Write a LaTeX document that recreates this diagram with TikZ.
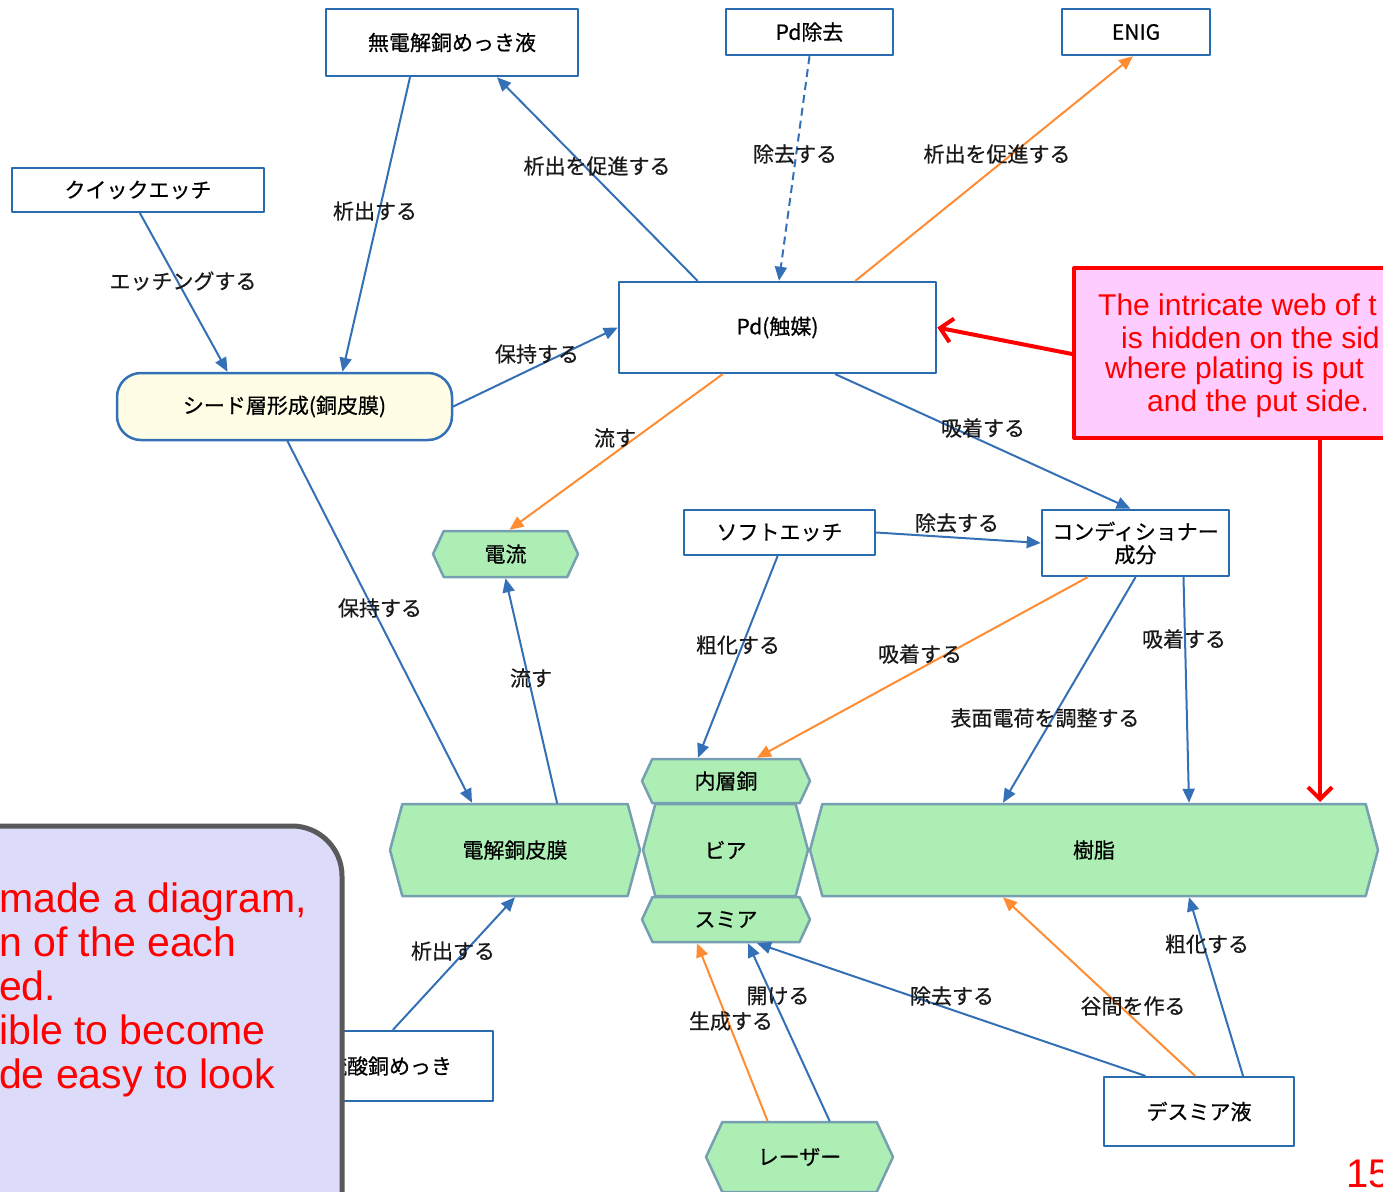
\documentclass[tikz,border=0pt]{standalone}
\usepackage{fontspec}
\setmainfont{Liberation Sans}
\newfontfamily\jpfont[FakeBold=0.6]{Noto Sans CJK JP}
\usetikzlibrary{arrows,arrows.meta,shapes.symbols}

\definecolor{boxblue}{RGB}{42,108,176}
\definecolor{lineblue}{RGB}{52,112,182}
\definecolor{linkorange}{RGB}{255,140,50}
\definecolor{leaf}{RGB}{172,238,180}
\definecolor{leafrim}{RGB}{118,160,178}
\definecolor{ivory}{RGB}{255,253,230}
\definecolor{pinkfill}{RGB}{255,204,255}
\definecolor{lavender}{RGB}{220,220,250}

\tikzset{
  jp/.style={font=\jpfont\fontsize{21}{24}\selectfont},
  box/.style={jp, draw=boxblue, line width=2.5pt, fill=white, inner sep=0pt, align=center},
  seedbox/.style={jp, draw=lineblue, line width=2.5pt, fill=ivory, rounded corners=24pt, inner sep=0pt},
  part/.style={jp, shape=signal, signal to=west and east, signal pointer angle=#1, draw=leafrim, line width=2.5pt, fill=leaf, inner sep=0pt},
  part/.default=150,
  lbl/.style={jp, text=black!90, inner sep=1pt},
  link/.style={->, draw=lineblue, line width=2pt},
  olink/.style={->, draw=linkorange, line width=2pt},
  redarrow/.style={-{Straight Barb[length=12pt,width=24pt]}, draw=red, line width=4pt},
  memo/.style={draw=black!65, line width=5pt, fill=lavender, rounded corners=50pt},
  warn/.style={draw=red, line width=4pt, fill=pinkfill},
  redtext/.style={text=red, inner sep=0pt, anchor=west},
}

\begin{document}
\begin{tikzpicture}[x=1pt,y=-1pt,>={Triangle[length=14pt,width=12pt]},line cap=round,line join=round]
\useasboundingbox (0,0) rectangle (1383,1191);
\clip (0,0) rectangle (1383,1191);

% boxes
\node[box, minimum width=252, minimum height=67] (eless) at (452,42.5) {無電解銅めっき液};
\node[box, minimum width=167, minimum height=46] (pdrem) at (809.5,32) {Pd除去};
\node[box, minimum width=148, minimum height=46] (enig) at (1136,32) {ENIG};
\node[box, minimum width=252, minimum height=44] (quick) at (138,190) {クイックエッチ};
\node[box, minimum width=317, minimum height=91] (pd) at (777.5,327.5) {Pd(触媒)};
\node[seedbox, minimum width=335, minimum height=67] (seed) at (284.5,406.5) {シード層形成(銅皮膜)};
\node[part=130, minimum width=145, minimum height=46] (current) at (505.5,554) {電流};
\node[box, minimum width=191, minimum height=45] (soft) at (779.5,532.5) {ソフトエッチ};
\node[box, minimum width=187, minimum height=66, font=\jpfont\fontsize{21}{23}\selectfont] (cond) at (1135.5,543) {コンディショナー\\成分};
\node[part=130, minimum width=168, minimum height=44] (inner) at (726,781) {内層銅};
\node[part, minimum width=250, minimum height=92] (elfilm) at (515,850) {電解銅皮膜};
\node[part, minimum width=165, minimum height=92] (via) at (725.5,850) {ビア};
\node[part, minimum width=568, minimum height=92] (resin) at (1094,850) {樹脂};
\node[part=130, minimum width=168, minimum height=45] (smear) at (726,919.5) {スミア};
\node[box, minimum width=208, minimum height=70] (sulf) at (389,1066) {硫酸銅めっき};
\node[box, minimum width=190, minimum height=69] (desmear) at (1199,1111.5) {デスミア液};
\node[part=130, minimum width=187, minimum height=70] (laser) at (799.5,1157) {レーザー};

% connectors
\draw[link] ([xshift=-42]eless.south) -- ([xshift=58]seed.north);
\node[lbl] (l1) at (375,211) {析出する};
\draw[link] ([xshift=-80]pd.north) -- ([xshift=45]eless.south);
\node[lbl] (l2) at (597,166) {析出を促進する};
\draw[link] ([xshift=2]quick.south) -- ([xshift=-57]seed.north);
\node[lbl] (l3) at (183,281) {エッチングする};
\draw[link] (seed.east) -- (pd.west);
\node[lbl] (l4) at (537,354) {保持する};
\draw[link, dash pattern=on 8pt off 5pt, line cap=butt] (pdrem.south) -- ([xshift=1.5]pd.north);
\node[lbl] (l5) at (795,154) {除去する};
\draw[olink] ([xshift=78]pd.north) -- ([xshift=-3]enig.south);
\node[lbl] (l6) at (997,154) {析出を促進する};
\draw[olink] ([xshift=-55]pd.south) -- ([xshift=4]current.north);
\node[lbl] (l7) at (615,438) {流す};
\draw[link] ([xshift=58]pd.south) -- ([xshift=-5]cond.north);
\node[lbl] (l8) at (983,428) {吸着する};
\draw[link] (soft.east) -- (cond.west);
\node[lbl] (l9) at (957,523) {除去する};
\draw[link] ([xshift=-2]soft.south) -- ([xshift=-28]inner.north);
\node[lbl] (l10) at (738,645) {粗化する};
\draw[olink] ([xshift=-48]cond.south) -- ([xshift=31]inner.north);
\node[lbl] (l11) at (920,654) {吸着する};
\draw[link] (cond.south) -- ([xshift=-91]resin.north);
\node[lbl] (l12) at (1045,718) {表面電荷を調整する};
\draw[link] ([xshift=48]cond.south) -- ([xshift=95]resin.north);
\node[lbl] (l13) at (1184,639) {吸着する};
\draw[link] ([xshift=3]seed.south) -- ([xshift=-43]elfilm.north);
\node[lbl] (l14) at (380,608) {保持する};
\draw[link] ([xshift=42]elfilm.north) -- (current.south);
\node[lbl] (l15) at (531,678) {流す};
\draw[link] ([xshift=4]sulf.north) -- (elfilm.south);
\node[lbl] (l16) at (453,951) {析出する};
\draw[olink] ([xshift=-32]laser.north) -- ([xshift=-29]smear.south);
\node[lbl] (l17) at (731,1021) {生成する};
\draw[link] ([xshift=30]laser.north) -- ([xshift=22]smear.south);
\node[lbl] (l18) at (778,996) {開ける};
\draw[link] ([xshift=-54]desmear.north) -- ([xshift=31]smear.south);
\node[lbl] (l19) at (952,996) {除去する};
\draw[olink] ([xshift=-4]desmear.north) -- ([xshift=-91]resin.south);
\node[lbl] (l20) at (1133,1006) {谷間を作る};
\draw[link] ([xshift=44]desmear.north) -- ([xshift=95]resin.south);
\node[lbl] (l21) at (1207,944) {粗化する};

% callouts
\node[warn, minimum width=340, minimum height=170] (warnbox) at (1244,353) {};
\foreach \x/\y/\t [count=\i] in {1098/305/The intricate web of t, 1121/338/is hidden on the sid, 1105/371/where plating is put, 1147/404/and the put side.}
  \node[redtext, font=\fontsize{30}{33}\selectfont] (warn\i) at (\x,\y) {\t};
\coordinate (resintip) at (1320,802);
\draw[redarrow] (warnbox.south -| resintip) -- (resintip);
\draw[redarrow] ([yshift=-1]warnbox.west) -- (pd.east);

\node[memo, minimum width=460, minimum height=420] (memobox) at (112,1036) {};
\node[text=red, inner sep=0pt, anchor=north west, align=left, font=\fontsize{41}{44}\selectfont] (memotext) at (-1,883)
  {made a diagram,\\n of the each\\ed.\\ible to become\\de easy to look};

\node[text=red, inner sep=0pt, anchor=north west, font=\fontsize{40}{44}\selectfont] (page) at (1346,1160) {15};
\end{tikzpicture}
\end{document}
